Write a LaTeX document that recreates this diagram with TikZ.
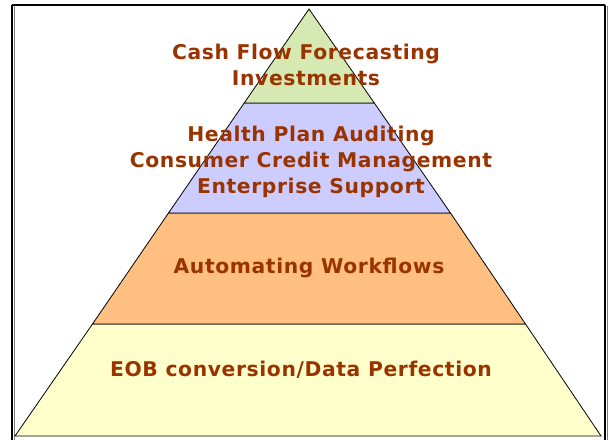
\documentclass[tikz,border=0pt]{standalone}
\usepackage{fontspec}
\setmainfont{DejaVu Sans}[LetterSpace=3]
\begin{document}
\begin{tikzpicture}[x=1pt,y=-1pt,
  layer/.style={draw=black,line width=0.8pt,line join=miter},
  label/.style={font=\bfseries\fontsize{20.3}{26}\selectfont,text=txtbrown,align=center,inner sep=0pt},
  ]
\definecolor{txtbrown}{HTML}{993300}
\definecolor{topgreen}{HTML}{D7E9B3}
\definecolor{midblue}{HTML}{CCCCFF}
\definecolor{laborange}{HTML}{FFBF80}
\definecolor{baseyellow}{HTML}{FFFFCC}
\useasboundingbox (0,0) rectangle (610,439);
\fill[white] (0,0) rectangle (610,439);
% outer frame
\draw[line width=2pt] (12,5) -- (605,5);
\draw[line width=2pt] (12,5) -- (12,445);
\draw[line width=2pt] (605,5) -- (605,445);
\draw[gray,line width=0.8pt] (14.5,6) -- (14.5,445);
\draw[gray,line width=0.8pt] (607,6) -- (607,445);
% pyramid corners
\coordinate (apex) at (309,9);
\coordinate (bl) at (15,436);
\coordinate (br) at (601,436);
\coordinate (l1) at (244.2,103);
\coordinate (r1) at (374.3,103);
\coordinate (l2) at (168.5,213);
\coordinate (r2) at (450.5,213);
\coordinate (l3) at (92.5,324);
\coordinate (r3) at (525.5,324);
% layers
\draw[layer,fill=baseyellow] (l3) -- (r3) -- (br) -- (bl) -- cycle;
\draw[layer,fill=laborange] (l2) -- (r2) -- (r3) -- (l3) -- cycle;
\draw[layer,fill=midblue] (l1) -- (r1) -- (r2) -- (l2) -- cycle;
\draw[layer,fill=topgreen] (apex) -- (r1) -- (l1) -- cycle;
% labels
\node[label] (t1) at (306,65) {Cash Flow Forecasting\\Investments};
\node[label] (t2) at (311,162) {Health Plan Auditing\\Consumer Credit Management\\Enterprise Support};
\node[label] (t3) at (309,268) {Automating Workflows};
\node[label] (t4) at (301,370) {EOB conversion/Data Perfection};
\end{tikzpicture}
\end{document}
